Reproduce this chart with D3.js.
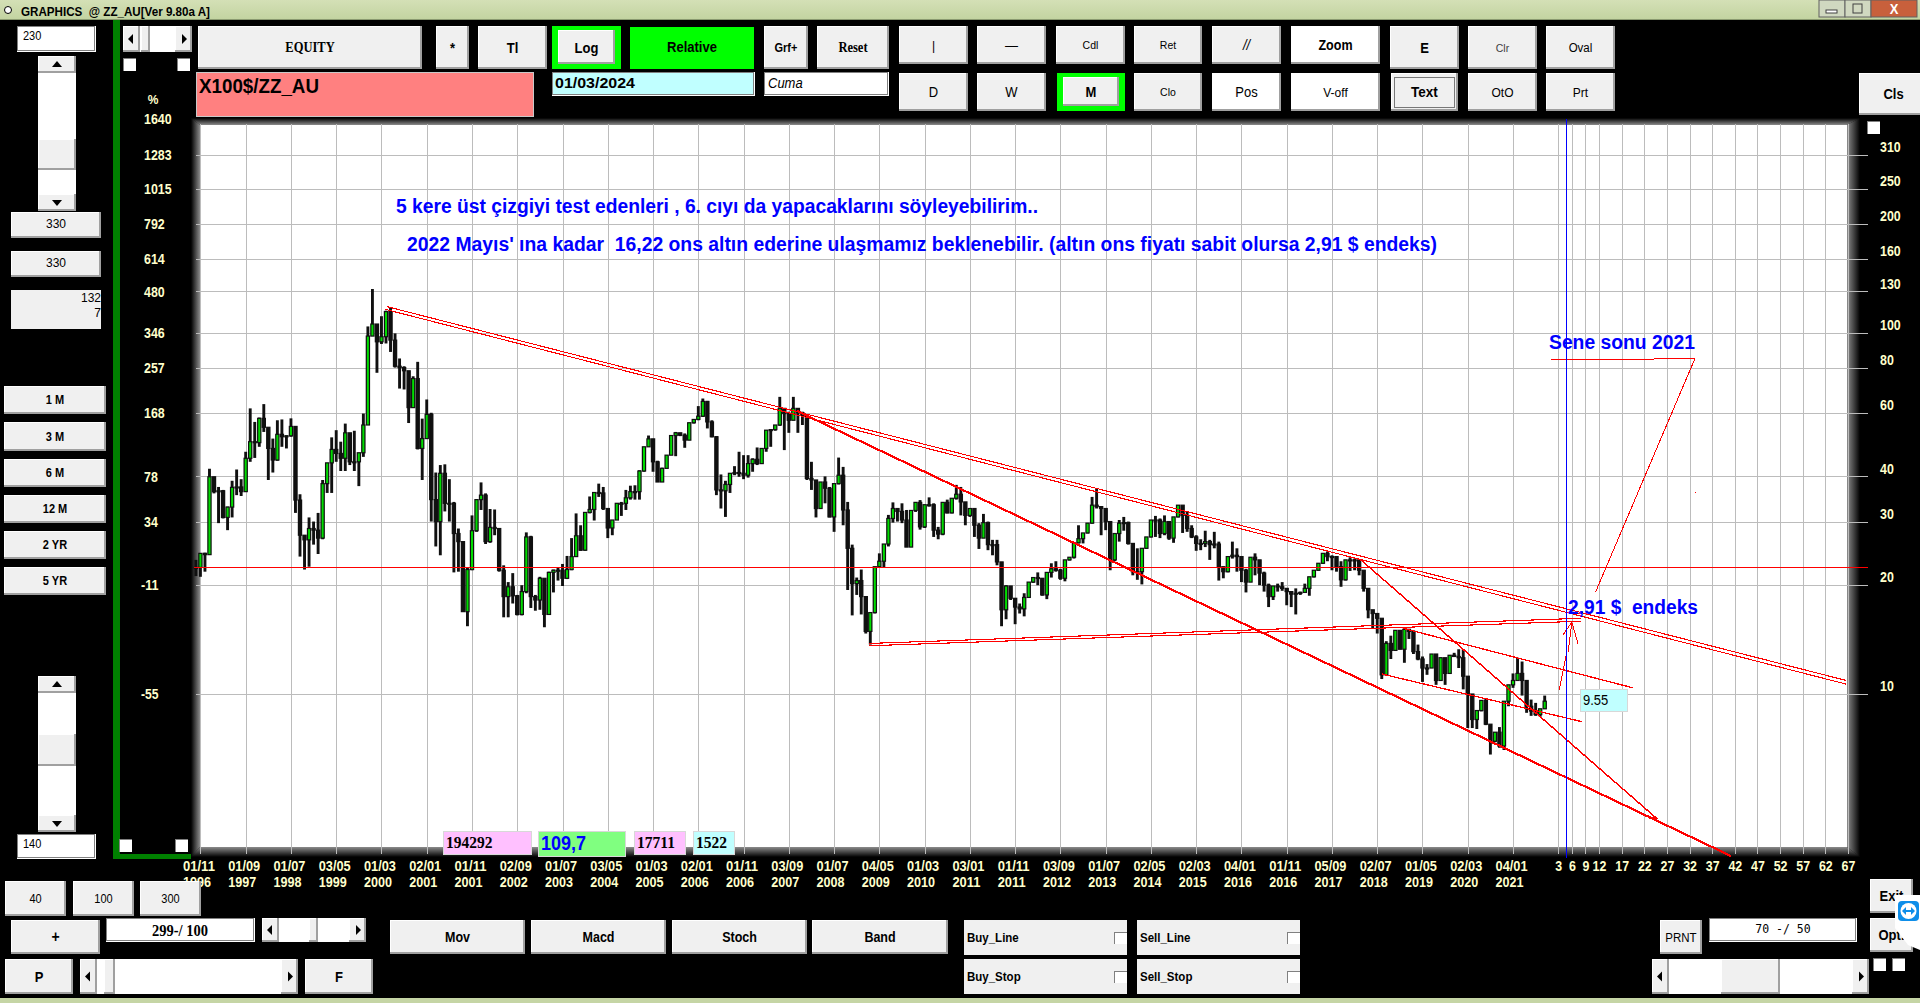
<!DOCTYPE html>
<html>
<head>
<meta charset="utf-8">
<title>GRAPHICS @ ZZ_AU</title>
<script src="https://cdn.jsdelivr.net/npm/d3@7"></script>
<style>
html,body{margin:0;padding:0;background:#000;overflow:hidden;}
svg{display:block;}
text{font-family:"Liberation Sans",Arial,sans-serif;}
</style>
</head>
<body>
<svg id="screen"></svg>
<script>
//monthly candles, october 1996 to august 2021. every candle opens on the previous close
var highs = [
23.5,24.5,24.6,42,39.9,37.4,36.7,33,38.9,41.8,
39.3,46.8,61.7,56.6,58.2,63.4,52.6,50.9,57.2,57.5,
52,57.9,55,35.7,27.5,30.8,30,31.7,39.1,43.6,
51.3,53.7,49.9,56,52.6,53.5,46.5,59.7,104,132,
100.6,111,115,117.5,99.5,84.8,80.7,72.3,75.7,83,
57.8,65.3,60,41,43,43.2,39.3,34,28.7,26,
22.4,31.2,34.5,38.5,35.9,32.5,32.4,28.5,22.7,20.4,
21.6,18.8,20,28,27.4,18.8,21.1,20,21.8,22.1,
22.4,22.9,24.1,27,31.6,29.3,31.8,35.2,36.1,38.2,
37.4,32.6,30.3,33.7,34,36.7,37.7,37.8,41.6,48.3,
51.9,50.8,44.2,42.3,45.8,51.9,53.1,52.8,52.6,56.3,
57.5,62.6,65.7,64.7,57.2,51.7,40.5,38.9,40.8,42.7,
46.8,45.8,45.8,44.9,48.1,47.8,53.7,53.9,55.5,66.4,
61.7,60.4,66.4,61.7,60.4,59.5,43.9,39.1,38.6,40,
37.4,38.2,45.1,42.5,34,25.9,21,22.1,18.6,16.8,
22.5,24.5,26,31.3,33.9,32.6,33.7,32.3,32.2,33.9,
34.4,33.4,35,33.7,29,33.9,34.5,34.8,37.9,37.4,
33,32.6,31.2,29.7,31.5,30,26.7,26.7,22.9,20,
19.7,18.4,17.8,19,20.4,21,21.7,20.9,21.7,23,
23.3,22.2,23.5,23.9,26.2,29.3,27.9,29.7,35.1,37,
33,32.3,30,27.8,30.3,30.9,30,25.7,25.3,25.3,
27.2,30.3,31.1,30.6,31.2,30,30.9,33.3,33,32,
29.3,27.5,26.8,28.3,26.7,28.1,26.4,22.5,24,26.4,
25.3,22.2,22.2,23.9,24.5,23.5,21.8,20.2,19.9,20.2,
20.4,19.6,19.2,19.6,19.2,20.2,21.1,22,23,24.5,
24.8,24.2,23,23.3,23.5,23.9,23.7,23.5,21.8,19.3,
16.9,16.7,16.1,14,14.5,15,15,15.1,15.1,15,
13.7,12.7,12.1,12.9,12.9,12.6,12.5,12.8,13,13.3,
13.3,11.2,8.68,9,9.6,9.75,8.2,7.84,8.1,9.55,
10.6,11.4,12.6,12.3,10.3,9.65,9.45,9.1,9.9];

var lows = [
21.2,21.1,21.8,24.6,35.9,29.7,30.6,28.4,30.8,35.5,
35.3,36.3,43.9,45,48.3,53.1,39.1,41,44.2,48.3,
47.8,51.5,31.7,24,22.1,22.5,25.9,24.4,26.8,36,
36,43.9,41.4,41.4,43,41.4,37.6,45.3,56,100,
77.4,93,93.3,88.4,80,70,69.6,56.2,62,47.5,
39.1,51.2,30,25.6,24.2,32,30,21.7,21.8,16.9,
15.4,22,28.1,32.3,26,26.2,27.5,21.8,16.3,16.3,
17.8,16.5,16.5,19,17.3,17,17.1,15.3,16.6,19.1,
20.6,19.9,20.8,22,24.2,24.9,24.9,31.6,30.2,35.1,
32.3,27,27.5,30.3,31.1,32.3,34.5,34.5,34.5,41.2,
48.3,41.2,38.6,38.6,43.2,45.8,45.5,51.7,48,50.4,
56,57.2,58.4,54.3,51.3,35.5,32.6,30.9,36,40.3,
39.9,39.3,39.7,41.2,43,43.4,46.8,48.3,53.5,55.2,
47.3,52.8,57.2,52.8,55.5,39.1,36.7,30.8,32.6,33.7,
30.8,28.1,38,29.3,19.4,16.5,18.8,16.6,14.7,13.7,
16.7,22.4,22.4,25.6,29.8,30,29.7,25.5,25.5,31.9,
28.5,28.8,33,27.2,26.8,27.5,31.6,31.6,34.5,31.2,
29.3,30.9,27.2,25.2,27,25,24.2,22.7,15.4,16.1,
18.2,15.6,16.7,16.4,18.5,20.3,20,18.7,18.3,21,
21.8,20.7,20.5,23.4,23.7,26.1,26.1,27.8,29.6,32.6,
27.5,28.4,22,23.3,26.4,28.3,25.9,21.3,20.7,20.1,
25.2,27.1,27.2,27,27.5,26.7,26.2,30.8,27.9,28.1,
27,24.9,25,25.5,23.5,25.3,20.6,20.9,21.7,23.7,
21.8,20.4,19.1,20.4,21.3,20,19.2,17.4,18.2,19.2,
19.3,17.6,17.4,16.6,18.8,19.4,18.7,21,21.9,22.9,
23.3,22,21.8,19.8,20.6,21.9,22,21.3,19.2,16.2,
15.2,14.7,11,11.3,12.5,13.2,13.3,12.2,14.2,12.9,
12.4,10.8,11.3,11.9,10.6,10.9,10.6,11.4,12.7,11.8,
10.3,8.05,8.05,8,8.95,8.2,6.8,7.35,7.1,7,
9.25,10.4,10.9,9.9,8.87,8.7,8.7,8.65,9.1];

var closes = [
22.4,24.5,24.3,39.9,36.3,36.5,30.8,32.9,37.3,37.4,
36.3,44.9,49.9,49.6,57.9,54.7,47.8,44.4,52.3,51.5,
51.8,55,34.4,27.5,26.7,28.7,28.4,27,38.2,43.6,
47.5,46.3,44.9,52.8,43.9,43.9,46.5,55.5,97.8,105.6,
94.3,97.4,114.3,95.3,80.7,80,78.4,62,74.6,47.8,
50.9,59.4,34.5,30,40.8,33.7,33.7,27.8,26.4,16.9,
22.1,28.3,34.5,35.5,26.4,28.9,28.7,22,18.6,19.8,
18.7,16.6,19.2,27.2,18.6,18.2,20.9,16.6,21.7,22,
22,20.9,22.1,24,27.4,25,31.8,32.4,36.1,36,
32.6,28.8,30.3,33.7,33.7,34.9,36.3,36.3,41.4,48.3,
50.8,43.9,38.6,42.1,45.8,51.9,52.8,52,50.4,56.3,
57.5,58.7,64.5,56.6,51.5,36.7,36.5,38,40.8,41,
40.8,40.3,43.4,44.6,43.4,47.8,53.7,53.9,55.5,61.7,
59.7,57.2,61.7,60,59.1,39.5,39.1,32.6,38.6,37.1,
30.9,38.2,40.3,32.3,25.3,20.2,20.6,18.6,14.9,16.8,
22.5,23.3,26,30.6,32.6,32,30.3,25.5,32.2,33.9,
29,33.4,33.4,28.4,27.7,33.9,31.7,34.8,35.7,34,
31.2,32.6,29.3,27,29.8,25.9,25.9,23.2,17.1,19.9,
18.4,17.4,17.2,18.5,20.4,21,20.9,18.8,21.7,22.2,
22,20.9,23.5,23.9,26.2,26.9,27.9,29.7,33.3,33,
32.6,30,23.5,27.8,29.7,29.8,26.1,21.8,21.8,25.3,
27.2,30.3,30.3,27.8,30,27,30.9,33.3,31.2,28.7,
27.2,26.1,26.1,26.4,25.9,26,22.5,21.8,24,24.2,
24,22,20.4,23.9,23.5,21.6,20,18.6,19.9,19.8,
19.6,19.2,18.9,19,19.1,19.6,21.1,22,23,24.5,
24,24,22.5,20.7,23.5,23.5,23.5,22,19.6,17.1,
16.7,16.2,11.3,13.8,13.2,15,13.3,15.1,14.9,13.1,
12.5,11.8,11.8,12.9,10.9,12.6,11.4,12.8,12.7,12.6,
11.2,10,8.5,9,9.6,8.25,7.4,7.84,7.18,9.55,
10.6,10.9,11.4,10.9,9.25,8.97,8.77,9.1,9.55];

//date labels sit on every tenth candle starting from candle 1
var dateLabels = [
"01/11 1996","01/09 1997","01/07 1998","03/05 1999","01/03 2000","02/01 2001",
"01/11 2001","02/09 2002","01/07 2003","03/05 2004","01/03 2005","02/01 2006",
"01/11 2006","03/09 2007","01/07 2008","04/05 2009","01/03 2010","03/01 2011",
"01/11 2011","03/09 2012","01/07 2013","02/05 2014","02/03 2015","04/01 2016",
"01/11 2016","05/09 2017","02/07 2018","01/05 2019","02/03 2020","04/01 2021"];
var dateTicks = [1,11,21,31,41,51,61,71,81,91,101,111,121,131,141,151,161,171,181,191,201,211,221,231,241,251,261,271,281,291];

//months ahead of the last candle
var futureMonths = [3,6,9,12,17,22,27,32,37,42,47,52,57,62,67];

var priceTicks = [310,250,200,160,130,100,80,60,40,30,20,10];
var percentTicks = [390,310,250,200,160,130,100,80,60,40,30,20,10];
var percentLabels = ["1640","1283","1015","792","614","480","346","257","168","78","34","-11","-55"];

var baseLevel = 22.4;
var cursorMonth = 302.8;

//trend lines as [candle, price]
var upperDouble = [[[42.2,118],[364.6,10.9]],[[41.8,116],[364.6,10.65]]];
var baseDouble = [[[148.8,13.8],[306.1,16.2]],[[148.8,13.6],[306.1,15.9]]];
var lowerThick = [[[132.8,60.7],[339.2,3.56]]];
var wedgeLine = [[[257.4,23.5],[322.6,4.54],[321.1,4.54]]];
var channelLines = [[[266.7,15.2],[317.5,10.4]],[[262,11.36],[306.3,8.38]]];
var targetLines = [
    [[299.4,84.3],[315.5,84.3],[331.2,84.8],[309.2,19.1]],
    [[301.2,10.26],[302.7,12.7]],
    [[303.2,13.1],[304,15.8]],
    [[302.1,14.6],[304,15.8],[305.4,13.7]],
    [[303.4,16.8],[305.8,16.7]],
    [[331.3,36.3],[331.3,36.1]]];

var svg = d3.select("#screen").attr("width",1920).attr("height",1003);
var defs = svg.append("defs");

var SANS = "Liberation Sans";
var SERIF = "Liberation Serif";
var CREAM = "#ffffcc";

var xScale = d3.scaleLinear().domain([0,298]).range([195.9,1544.7]);
var yScale = d3.scaleLog().domain([10,310]).range([694,155]);

//small chart-free drawing helpers for the window around the chart
var box = function(x0,y0,x1,y1,fill)
{
    return svg.append("rect")
        .attr("x",x0).attr("y",y0)
        .attr("width",x1-x0).attr("height",y1-y0)
        .attr("fill",fill);
}

//windows fonts of that era are taller for their width, so the text is
//set a bit bigger and squeezed back to the width it had
var squeeze = function(t,size)
{
    var w = t.node().getComputedTextLength();
    t.attr("font-size",size*1.12)
        .attr("textLength",w)
        .attr("lengthAdjust","spacingAndGlyphs");
}

var label = function(x,y,msg,opts)
{
    opts = opts || {};
    var size = opts.size || 12;
    var t = svg.append("text")
        .attr("x",x).attr("y",y)
        .attr("dy","0.35em")
        .attr("text-anchor",opts.anchor || "middle")
        .attr("fill",opts.color || "#000")
        .attr("font-size",size)
        .attr("font-weight",opts.weight || "bold")
        .style("font-family",opts.font || SANS)
        .style("font-style",opts.style || "normal")
        .style("white-space","pre")
        .text(msg);
    if(opts.width)
    {
        t.attr("textLength",opts.width).attr("lengthAdjust","spacingAndGlyphs");
    }
    else
    {
        squeeze(t,size);
    }
    return t;
}

//raised windows button face
var raised = function(x0,y0,x1,y1,fill)
{
    box(x0,y0,x1,y1,fill || "#f0f0f0");
    box(x0,y0,x1,y0+1,"#ffffff");
    box(x0,y0,x0+1,y1,"#ffffff");
    box(x0,y1-2,x1,y1,"#a0a0a0");
    box(x1-2,y0,x1,y1,"#a0a0a0");
}

var button = function(x0,y0,x1,y1,msg,opts)
{
    opts = opts || {};
    raised(x0,y0,x1,y1,opts.fill);
    label((x0+x1)/2,(y0+y1)/2,msg,opts);
}

//green frame used for the switched on buttons
var activeButton = function(x0,y0,x1,y1,msg,opts)
{
    box(x0,y0,x1,y1,"#00ff00");
    raised(x0+6,y0+4,x1-6,y1-5);
    label((x0+x1)/2,(y0+y1)/2,msg,opts);
}

var sunken = function(x0,y0,x1,y1,fill)
{
    box(x0,y0,x1,y1,"#ffffff");
    box(x0,y0,x1-1,y1-1,"#808080");
    box(x0+1,y0+1,x1-2,y1-2,fill);
}

var checkbox = function(x0,y0,x1,y1)
{
    box(x0,y0,x1,y1,"#808080");
    box(x0+1,y0+1,x1,y1,"#ffffff");
}

var arrow = function(cx,cy,dir)
{
    var pts = {
        up:[[cx-5,cy+3],[cx+5,cy+3],[cx,cy-3]],
        down:[[cx-5,cy-3],[cx+5,cy-3],[cx,cy+3]],
        left:[[cx+2,cy-5],[cx+2,cy+5],[cx-3,cy]],
        right:[[cx-2,cy-5],[cx-2,cy+5],[cx+3,cy]]
    }[dir];
    svg.append("polygon").attr("points",pts.join(" ")).attr("fill","#000");
}

var vScroll = function(x0,y0,x1,y1,t0,t1)
{
    box(x0,y0,x1,y1,"#ffffff");
    raised(x0,y0,x1,y0+17);
    raised(x0,y1-17,x1,y1);
    raised(x0,t0,x1,t1);
    arrow((x0+x1)/2,y0+8,"up");
    arrow((x0+x1)/2,y1-8,"down");
}

var hScroll = function(x0,y0,x1,y1,t0,t1)
{
    box(x0,y0,x1,y1,"#ffffff");
    raised(x0,y0,x0+17,y1);
    raised(x1-17,y0,x1,y1);
    raised(t0,y0,t1,y1);
    arrow(x0+8,(y0+y1)/2,"left");
    arrow(x1-8,(y0+y1)/2,"right");
}

var verticalGradient = function(id,a,b,horizontal)
{
    var g = defs.append("linearGradient").attr("id",id)
        .attr("x1",0).attr("y1",0)
        .attr("x2",horizontal ? 1 : 0).attr("y2",horizontal ? 0 : 1);
    g.append("stop").attr("offset","0%").attr("stop-color",a);
    g.append("stop").attr("offset","100%").attr("stop-color",b);
}

//title bar with the window buttons
var drawTitleBar = function()
{
    verticalGradient("titleGrad","#d4e0b6","#c2d3a0",false);
    box(0,0,1920,20,"url(#titleGrad)");
    box(0,19,1920,20,"#8a9a70");
    svg.append("circle").attr("cx",8).attr("cy",10).attr("r",3.5)
        .attr("fill","#fff").attr("stroke","#000");
    label(21,11,"GRAPHICS  @ ZZ_AU[Ver 9.80a A]",{anchor:"start",size:13,width:189});
    box(1819,0,1845,17,"#d0d8c0").attr("stroke","#606060");
    box(1845,0,1871,17,"#d0d8c0").attr("stroke","#606060");
    box(1871,0,1917,17,"#c8603c").attr("stroke","#606060");
    box(1826,10,1837,13,"#fff").attr("stroke","#404040");
    box(1853,4,1862,13,"none").attr("stroke","#404040");
    label(1894,9,"X",{color:"#fff",size:13});
}

//left column, top row, and bottom row controls
var drawControls = function()
{
    //green strip beside the percent scale
    box(113,20,120,859,"#008000");
    box(113,854,191,859,"#008000");

    //left column
    sunken(17,26,96,52,"#ffffff");
    label(23,36,"230",{anchor:"start",size:11,weight:"normal"});
    vScroll(38,56,76,211,139,170);
    raised(11,212,101,238);
    label(56,223,"330",{size:12,weight:"normal"});
    raised(11,251,101,277);
    label(56,262,"330",{size:12,weight:"normal"});
    box(11,290,101,329,"#f0f0f0");
    label(101,297,"132",{anchor:"end",size:12,weight:"normal"});
    label(101,312,"7",{anchor:"end",size:12,weight:"normal"});

    var periods = [["1 M",386,414],["3 M",422,451],["6 M",459,487],["12 M",495,523],["2 YR",531,559],["5 YR",567,595]];
    periods.forEach(function(p)
    {
        button(4,p[1],106,p[2],p[0],{size:11});
    });

    vScroll(38,676,76,832,734,766);
    sunken(17,834,96,859,"#ffffff");
    label(23,844,"140",{anchor:"start",size:11,weight:"normal"});

    //small scroller and check boxes above the percent scale
    hScroll(123,26,192,52,141,150);
    checkbox(123,58,136,71);
    checkbox(177,58,190,71);
    checkbox(119,839,132,852);
    checkbox(175,839,188,852);
    checkbox(1867,121,1880,134);

    //top rows
    button(198,26,422,69,"EQUITY",{font:SERIF,size:12.5});
    button(436,26,469,69,"*",{size:13});
    button(478,26,547,69,"Tl",{size:13});
    activeButton(552,26,621,69,"Log",{size:13});
    box(630,27,754,69,"#00ff00");
    label(692,47,"Relative",{size:13});
    button(764,26,808,69,"Grf+",{size:11});
    button(817,26,889,69,"Reset",{font:SERIF,size:12.5});

    button(899,26,968,64,"|",{size:12,weight:"normal"});
    button(977,26,1046,64,"—",{size:13,weight:"normal"});
    button(1056,26,1125,64,"Cdl",{size:10.5,weight:"normal"});
    button(1134,26,1202,64,"Ret",{size:10.5,weight:"normal"});
    button(1212,26,1281,64,"//",{size:13,weight:"normal",style:"italic"});
    button(1291,26,1380,64,"Zoom",{size:12.5,fill:"#ffffff"});
    button(1390,26,1459,69,"E",{size:13});
    button(1468,26,1537,69,"Clr",{size:10.5,weight:"normal",color:"#404040"});
    button(1546,26,1615,69,"Oval",{size:11.5,weight:"normal"});

    button(899,73,968,111,"D",{size:13,weight:"normal"});
    button(977,73,1046,111,"W",{size:13,weight:"normal"});
    activeButton(1057,73,1125,111,"M",{size:13});
    button(1134,73,1202,111,"Clo",{size:10.5,weight:"normal"});
    button(1212,73,1281,111,"Pos",{size:13,weight:"normal",fill:"#ffffff"});
    button(1291,73,1380,111,"V-off",{size:12,weight:"normal",fill:"#ffffff"});
    button(1391,73,1458,111,"Text",{size:13.5});
    svg.append("rect").attr("x",1394.5).attr("y",77.5).attr("width",60).attr("height",30)
        .attr("fill","none").attr("stroke","#000").attr("stroke-dasharray","1,1");
    button(1468,73,1537,111,"OtO",{size:12,weight:"normal"});
    button(1546,73,1615,111,"Prt",{size:12,weight:"normal"});
    button(1859,73,1928,115,"Cls",{size:13});

    //symbol, date and weekday fields
    box(196,72,534,117,"#ff8080");
    svg.append("rect").attr("x",196.5).attr("y",72.5).attr("width",337).attr("height",44)
        .attr("fill","none").attr("stroke","#c8c8c8");
    label(199,86,"X100$/ZZ_AU",{anchor:"start",size:20,width:120});
    sunken(552,72,755,96,"#c0ffff");
    label(555,83,"01/03/2024",{anchor:"start",size:15,width:80});
    sunken(764,72,889,96,"#ffffff");
    label(768,83,"Cuma",{anchor:"start",size:13,weight:"normal",style:"italic"});

    label(153,99,"%",{size:12,color:CREAM});

    //bottom rows
    button(5,881,66,916,"40",{size:11,weight:"normal"});
    button(73,881,134,916,"100",{size:11,weight:"normal"});
    button(140,881,201,916,"300",{size:11,weight:"normal"});
    button(11,920,100,954,"+",{size:14});
    sunken(106,918,255,942,"#ffffff");
    label(180,930,"299-/ 100",{font:SERIF,size:14.5});
    hScroll(262,918,366,942,309,318);
    button(5,959,73,994,"P",{size:13});
    hScroll(80,959,298,994,104,115);
    button(305,959,373,994,"F",{size:13});
    button(390,920,525,954,"Mov",{size:12.5});
    button(531,920,666,954,"Macd",{size:12.5});
    button(672,920,807,954,"Stoch",{size:12.5});
    button(812,920,948,954,"Band",{size:12.5});

    var orders = [["Buy_Line",964,920,955],["Buy_Stop",964,959,994],["Sell_Line",1137,920,955],["Sell_Stop",1137,959,994]];
    orders.forEach(function(o)
    {
        box(o[1],o[2],o[1]+163,o[3],"#f0f0f0");
        label(o[1]+3,(o[2]+o[3])/2,o[0],{anchor:"start",size:11.5});
        checkbox(o[1]+150,o[2]+12,o[1]+163,o[2]+24);
    });

    button(1660,920,1702,954,"PRNT",{size:11.5,weight:"normal"});
    sunken(1709,918,1857,942,"#ffffff");
    label(1783,928,"70 -/ 50",{size:11.5,weight:"normal",font:"DejaVu Sans Mono"});
    button(1870,879,1913,913,"Exit",{size:13});
    button(1870,918,1913,952,"Opt.",{size:13});
    hScroll(1652,959,1869,994,1721,1780);
    checkbox(1873,958,1886,971);
    checkbox(1892,958,1905,971);

    //remote desktop tab stuck on the right edge
    svg.append("polygon").attr("points","1895,895 1920,895 1920,950 1908,945 1895,928").attr("fill","#ffffff");
    svg.append("rect").attr("x",1898).attr("y",901).attr("width",21).attr("height",20).attr("rx",4)
        .attr("fill","#0e8ee9");
    svg.append("circle").attr("cx",1908.5).attr("cy",911).attr("r",8).attr("fill","#fff");
    svg.append("path").attr("d","M1902 911l4-4v3h5v-3l4 4-4 4v-3h-5v3z").attr("fill","#0e8ee9");

    //task bar peeking in at the bottom
    box(0,998,1920,1003,"#c5d5a5");
}

//white plot area and its dark bevel
var drawPlotFrame = function()
{
    verticalGradient("bevelTop","#000000","#8c8c8c",false);
    verticalGradient("bevelBottom","#8c8c8c","#000000",false);
    verticalGradient("bevelLeft","#000000","#8c8c8c",true);
    verticalGradient("bevelRight","#8c8c8c","#000000",true);

    box(200,125,1847,847,"#ffffff");
    svg.append("polygon").attr("points","191,118 1860,118 1847,125 200,125").attr("fill","url(#bevelTop)");
    svg.append("polygon").attr("points","200,847 1847,847 1860,857 191,857").attr("fill","url(#bevelBottom)");
    svg.append("polygon").attr("points","191,118 200,125 200,847 191,857").attr("fill","url(#bevelLeft)");
    svg.append("polygon").attr("points","1847,125 1860,118 1860,857 1847,847").attr("fill","url(#bevelRight)");
}

//squeezes one axis label the same way the button labels are
var axisText = function(sel,size,digit)
{
    sel.attr("fill",CREAM)
        .attr("font-size",size)
        .attr("font-weight","bold")
        .style("font-family",SANS)
        .attr("lengthAdjust","spacingAndGlyphs")
        .attr("textLength",function()
        {
            return narrowWidth(d3.select(this).text(),digit);
        });
}

var narrowWidth = function(msg,digit)
{
    return msg.replace(/[^0-9]/g,"").length*digit + msg.replace(/[0-9]/g,"").length*digit*0.55;
}

var styleGrid = function(axis)
{
    axis.select(".domain").remove();
    axis.selectAll("line")
        .attr("stroke","#bcbcbc")
        .attr("stroke-width",1)
        .attr("shape-rendering","crispEdges");
}

//grid lines and all the tick labels come from the d3 axes
var createAxes = function()
{
    var percentFor = d3.scaleOrdinal().domain(percentTicks).range(percentLabels);

    var left = svg.append("g")
        .attr("transform","translate(196,0)")
        .call(d3.axisLeft(yScale)
            .tickValues(percentTicks)
            .tickSize(-1651)
            .tickFormat(function(v){ return percentFor(v); }));

    styleGrid(left);
    left.selectAll(".tick").filter(function(v){ return v==390; }).select("line").remove();
    left.selectAll("text")
        .attr("text-anchor","start")
        .attr("x",function(v){ return v<=20 ? -55 : -52; })
        .call(axisText,14.5,6.9);

    var right = svg.append("g")
        .attr("transform","translate(1847,0)")
        .call(d3.axisRight(yScale)
            .tickValues(priceTicks)
            .tickSize(21)
            .tickFormat(d3.format("d")));

    styleGrid(right);
    right.selectAll("text")
        .attr("x",33)
        .attr("y",-8)
        .call(axisText,14.5,6.9);

    var labelFor = d3.scaleOrdinal().domain(dateTicks).range(dateLabels);

    var dates = svg.append("g")
        .attr("transform","translate(0,854)")
        .call(d3.axisBottom(xScale)
            .tickValues(dateTicks)
            .tickSize(-730)
            .tickFormat(function(k){ return labelFor(k); }));

    styleGrid(dates);
    dates.selectAll("text").each(function(k)
    {
        var parts = labelFor(k).split(" ");
        var t = d3.select(this)
            .text(null)
            .attr("text-anchor","start")
            .attr("y",null).attr("dy",null)
            .attr("fill",CREAM)
            .attr("font-size",14.5)
            .attr("font-weight","bold")
            .style("font-family",SANS);
        t.append("tspan").attr("x",-18).attr("y",17)
            .attr("textLength",32).attr("lengthAdjust","spacingAndGlyphs").text(parts[0]);
        t.append("tspan").attr("x",-18).attr("y",33)
            .attr("textLength",28).attr("lengthAdjust","spacingAndGlyphs").text(parts[1]);
    });

    var future = svg.append("g")
        .attr("transform","translate(0,854)")
        .call(d3.axisBottom(xScale)
            .tickValues(futureMonths.map(function(n){ return 298+n; }))
            .tickSize(-730)
            .tickFormat(function(k){ return k-298; }));

    styleGrid(future);
    future.selectAll("text")
        .attr("y",7)
        .call(axisText,14.5,6.9);
}

//one wick and one body per month
var drawCandles = function()
{
    var months = closes.map(function(c,i)
    {
        return {
            k:i,
            open:i==0 ? c : closes[i-1],
            close:c,
            high:highs[i],
            low:lows[i]
        };
    });

    var g = svg.append("g").classed("candles",true);

    g.selectAll("line")
        .data(months)
        .enter()
        .append("line")
        .attr("x1",function(m){ return xScale(m.k); })
        .attr("x2",function(m){ return xScale(m.k); })
        .attr("y1",function(m){ return yScale(m.high); })
        .attr("y2",function(m){ return yScale(m.low); })
        .attr("stroke","#101010")
        .attr("stroke-width",2.9);

    g.selectAll("rect")
        .data(months)
        .enter()
        .append("rect")
        .attr("x",function(m){ return xScale(m.k)-1.6; })
        .attr("width",3.2)
        .attr("y",function(m){ return yScale(Math.max(m.open,m.close)); })
        .attr("height",function(m)
        {
            return Math.max(1,Math.abs(yScale(m.open)-yScale(m.close)));
        })
        .attr("fill",function(m){ return m.close>=m.open ? "#00dc00" : "#101010"; })
        .attr("stroke","#101010")
        .attr("stroke-width",1.2);
}

var drawTrendLines = function()
{
    var line = d3.line()
        .x(function(p){ return xScale(p[0]); })
        .y(function(p){ return yScale(p[1]); });

    var addLines = function(lines,width)
    {
        svg.append("g").selectAll("path")
            .data(lines)
            .enter()
            .append("path")
            .attr("d",line)
            .attr("fill","none")
            .attr("stroke","#ff0000")
            .attr("stroke-width",width)
            .attr("shape-rendering","crispEdges");
    }

    addLines(upperDouble,1.1);
    addLines(baseDouble,1.1);
    addLines(lowerThick,2.2);
    addLines(wedgeLine,1.5);
    addLines(channelLines,1.3);
    addLines(targetLines,1);

    //base level of the percent scale
    svg.append("line")
        .attr("x1",194).attr("x2",1868)
        .attr("y1",yScale(baseLevel)).attr("y2",yScale(baseLevel))
        .attr("stroke","#ff0000")
        .attr("stroke-width",1)
        .attr("shape-rendering","crispEdges");

    //cursor
    svg.append("line")
        .attr("x1",xScale(cursorMonth)).attr("x2",xScale(cursorMonth))
        .attr("y1",119).attr("y2",858)
        .attr("stroke","#0000ff")
        .attr("stroke-width",1)
        .attr("shape-rendering","crispEdges");
}

var drawNotes = function()
{
    var blue = function(x,y,msg,width)
    {
        label(x,y,msg,{anchor:"start",size:20,color:"#0000ff",width:width});
    }
    blue(396,206,"5 kere üst çizgiyi test edenleri , 6. cıyı da yapacaklarını söyleyebilirim..",642);
    blue(407,244,"2022 Mayıs' ına kadar  16,22 ons altın ederine ulaşmamız beklenebilir. (altın ons fiyatı sabit olursa 2,91 $ endeks)",1030);
    blue(1549,342,"Sene sonu 2021",146);
    blue(1568,607,"2,91 $  endeks",130);
}

//value boxes that float over the plot
var drawInfoBoxes = function()
{
    var info = function(x0,y0,x1,y1,fill,msg,opts)
    {
        box(x0,y0,x1,y1,"#d8d8d8");
        box(x0+1,y0+1,x1-1,y1-1,fill);
        label(x0+3,(y0+y1)/2-1,msg,opts);
    }
    info(443,831,532,855,"#ffc0ff","194292",{anchor:"start",font:SERIF,size:15.5});
    info(538,831,626,857,"#80ff80","109,7",{anchor:"start",size:18,color:"#0000ff"});
    info(634,831,686,855,"#ffc0ff","17711",{anchor:"start",font:SERIF,size:15.5});
    info(693,831,735,855,"#c0ffff","1522",{anchor:"start",font:SERIF,size:15.5});
    info(1580,689,1628,712,"#c0ffff","9.55",{anchor:"start",size:13,weight:"normal"});
}

drawTitleBar();
drawPlotFrame();
createAxes();
drawCandles();
drawTrendLines();
drawNotes();
drawInfoBoxes();
drawControls();
</script>
</body>
</html>
